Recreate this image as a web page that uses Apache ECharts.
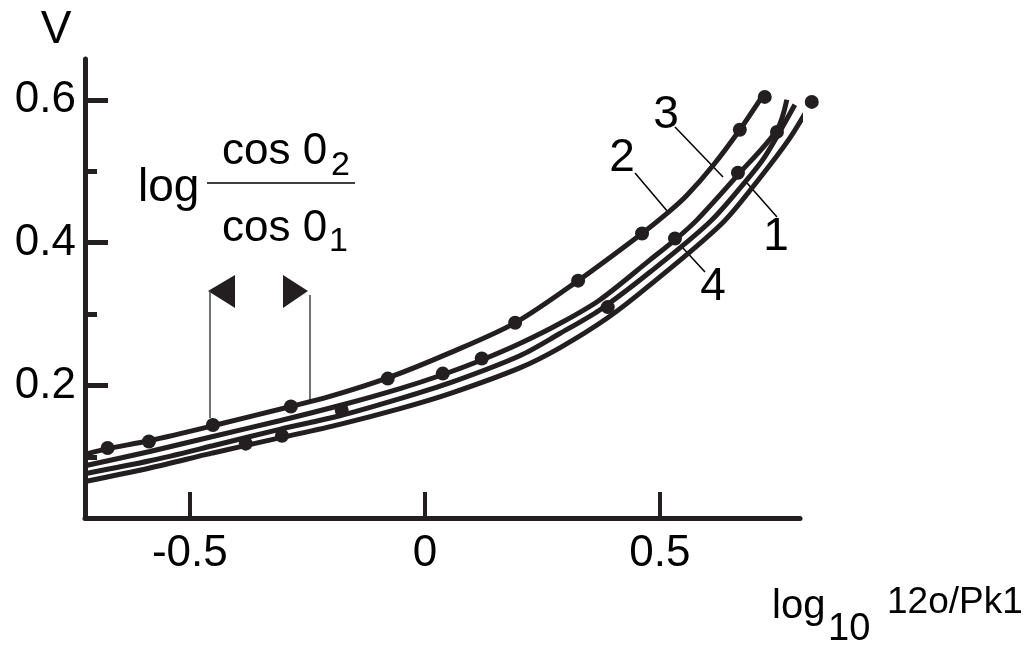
<!DOCTYPE html>
<html>
<head>
<meta charset="utf-8">
<script src="https://cdn.jsdelivr.net/npm/echarts@6/dist/echarts.min.js"></script>
<style>
html,body{margin:0;padding:0;background:#fff;}
#chart{width:1029px;height:651px;}
</style>
</head>
<body>
<div id="chart"></div>
<script>
// axis ticks / labels
const xTicks = [-0.5, 0, 0.5];
const yMajor = [0.2, 0.4, 0.6];
const yMinor = [0.1, 0.3, 0.5];

// curves: [log10 ratio, V]
const curve2 = [[-0.723,0.104],[-0.675,0.112],[-0.587,0.123],[-0.451,0.144],[-0.285,0.171],[-0.202,0.185],
  [-0.079,0.211],[0.053,0.246],[0.192,0.288],[0.326,0.347],[0.462,0.413],[0.517,0.442],[0.557,0.466],
  [0.613,0.508],[0.670,0.558],[0.723,0.610]];
const curve3 = [[-0.723,0.088],[-0.585,0.108],[-0.451,0.129],[-0.309,0.151],[-0.177,0.173],[-0.053,0.196],
  [0.036,0.215],[0.121,0.236],[0.202,0.259],[0.287,0.287],[0.372,0.320],[0.479,0.376],[0.532,0.404],
  [0.579,0.432],[0.666,0.495],[0.749,0.558],[0.770,0.600]];
const curve1 = [[-0.723,0.077],[-0.585,0.095],[-0.451,0.116],[-0.309,0.139],[-0.181,0.158],[-0.053,0.182],
  [0.053,0.204],[0.202,0.242],[0.287,0.273],[0.372,0.306],[0.479,0.359],[0.606,0.429],[0.685,0.488],
  [0.723,0.520],[0.787,0.593]];
const curve4 = [[-0.723,0.066],[-0.585,0.085],[-0.451,0.106],[-0.309,0.127],[-0.181,0.146],[-0.053,0.168],
  [0.053,0.189],[0.202,0.225],[0.287,0.253],[0.389,0.295],[0.479,0.341],[0.632,0.427],[0.713,0.491],
  [0.777,0.547],[0.823,0.597]];

// measured points
const dotsTop = [[-0.675,0.113],[-0.587,0.122],[-0.451,0.145],[-0.285,0.171],[-0.079,0.210],[0.192,0.288],
  [0.326,0.347],[0.462,0.413],[0.670,0.558],[0.723,0.604]];
const dotsLower = [[-0.381,0.119],[-0.304,0.130],[-0.177,0.166],[0.038,0.217],[0.121,0.238],[0.389,0.310],
  [0.532,0.406],[0.666,0.498],[0.749,0.555],[0.823,0.597]];

const ink = '#231f20';
const font = '"Liberation Sans", Arial, sans-serif';

let myChart = echarts.init(document.getElementById('chart'));

function curve(name, data){
  return {
    name: name, type: 'line', data: data, smooth: 0.3, symbol: 'none', clip: false,
    lineStyle: {color: ink, width: 5}, z: 3
  };
}
function dots(name, data){
  return {
    name: name, type: 'scatter', data: data, symbol: 'circle', symbolSize: 14, clip: false,
    itemStyle: {color: ink, opacity: 1}, z: 4
  };
}

function txt(x, y, s, size, align){
  return {type: 'text', x: x, y: y, style: {text: s, font: size + 'px ' + font, fill: '#000',
    align: align || 'left', verticalAlign: 'middle'}};
}
function seg(x1, y1, x2, y2, w, c){
  return {type: 'line', shape: {x1: x1, y1: y1, x2: x2, y2: y2}, style: {stroke: c || '#000', lineWidth: w || 1.5}};
}

let option = {
  backgroundColor: '#fff',
  animation: false,
  grid: {left: 85, top: 59, right: 229, bottom: 133},
  xAxis: {
    type: 'value', min: -0.723, max: 0.798,
    axisLine: {show: true, onZero: false, lineStyle: {color: ink, width: 5}},
    axisTick: {show: true, inside: true, length: 26, customValues: xTicks, lineStyle: {color: ink, width: 4}},
    axisLabel: {show: true, customValues: xTicks, margin: 14, color: '#000', fontSize: 44, fontFamily: font,
      formatter: v => v === 0 ? '0' : String(v)},
    splitLine: {show: false}
  },
  yAxis: [{
    type: 'value', min: 0.015, max: 0.657,
    axisLine: {show: true, onZero: false, lineStyle: {color: ink, width: 5}},
    axisTick: {show: true, inside: true, length: 23, customValues: yMajor, lineStyle: {color: ink, width: 5}},
    axisLabel: {show: true, customValues: yMajor, margin: 9, color: '#000', fontSize: 44, fontFamily: font,
      formatter: v => v.toFixed(1)},
    splitLine: {show: false}
  }, {
    type: 'value', min: 0.015, max: 0.657, position: 'left',
    axisLine: {show: false, onZero: false},
    axisTick: {show: true, inside: true, length: 12, customValues: yMinor, lineStyle: {color: ink, width: 5}},
    axisLabel: {show: false},
    splitLine: {show: false}
  }],
  series: [
    curve('2', curve2), curve('3', curve3), curve('1', curve1), curve('4', curve4),
    dots('pts2', dotsTop), dots('pts', dotsLower)
  ],
  graphic: [
    txt(56, 30, 'V', 46, 'center'),
    // fraction
    txt(138, 188, 'log', 46),
    txt(222, 152, 'cos 0', 44),
    txt(331, 166, '2', 34),
    seg(207, 183, 355, 183, 1.5),
    txt(222, 229, 'cos 0', 44),
    txt(329, 242, '1', 34),
    // arrows
    {type: 'polygon', shape: {points: [[208,291],[235,275],[235,308]]}, style: {fill: ink}},
    {type: 'polygon', shape: {points: [[308,291],[283,275],[283,308]]}, style: {fill: ink}},
    seg(210, 291, 210, 418, 1.5, '#444'),
    seg(310, 295, 310, 400, 1.5, '#444'),
    // curve numbers
    txt(622, 158, '2', 46, 'center'),
    txt(666, 115, '3', 46, 'center'),
    txt(776, 237, '1', 46, 'center'),
    txt(713, 287, '4', 46, 'center'),
    seg(635, 173, 668, 212),
    seg(675, 127, 723, 177),
    seg(777, 217, 747, 183),
    seg(705, 272, 682, 247),
    // x axis name
    txt(772, 607, 'log', 40),
    txt(828, 630, '10', 38),
    txt(887, 603, '12o/Pk1', 37)
  ]
};
myChart.setOption(option, true);
</script>
</body>
</html>
